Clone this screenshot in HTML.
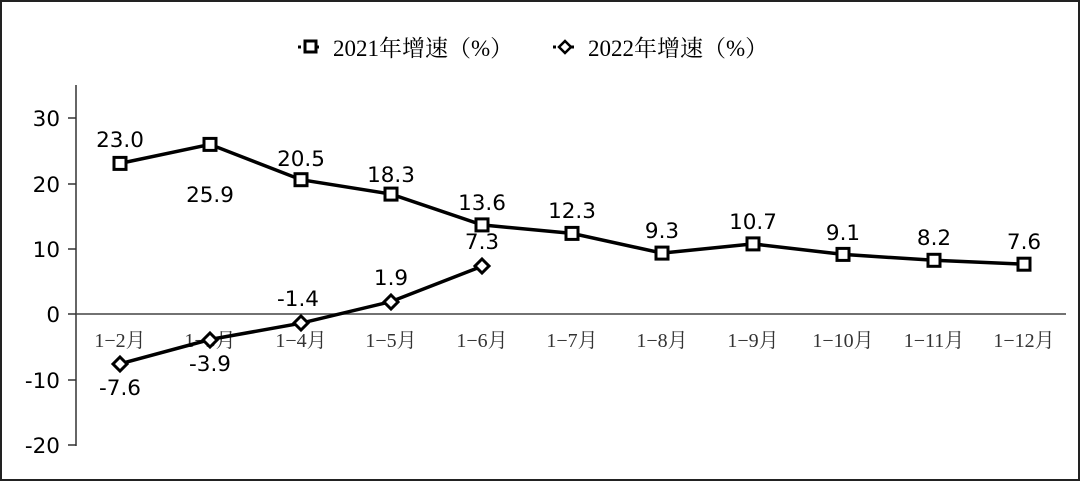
<!DOCTYPE html>
<html><head><meta charset="utf-8"><style>
html,body{margin:0;padding:0;background:#fff}
svg{display:block}
.n{font-family:"DejaVu Sans","Liberation Sans",sans-serif;font-size:21.5px;fill:#000}
.c{font-family:"Liberation Serif","Noto Serif CJK SC",serif;font-size:20px;fill:#333}
.l{font-family:"Liberation Serif","Noto Serif CJK SC",serif;font-size:23px;fill:#000}
</style></head><body>
<svg width="1080" height="481" viewBox="0 0 1080 481">
<rect x="1" y="1" width="1078" height="479" fill="#fff" stroke="#222" stroke-width="2"/>
<line x1="298" y1="47" x2="322" y2="47" stroke="#000" stroke-width="3" stroke-dasharray="3,3"/>
<rect x="305" y="41" width="11" height="11" fill="#fff" stroke="#000" stroke-width="3"/>
<text class="l" x="333" y="56">2021年增速（%）</text>
<line x1="553" y1="47" x2="577" y2="47" stroke="#000" stroke-width="3" stroke-dasharray="3,3"/>
<polygon points="565,41 571,47 565,53 559,47" fill="#fff" stroke="#000" stroke-width="2.5"/>
<text class="l" x="588" y="56">2022年增速（%）</text>
<line x1="76" y1="85" x2="76" y2="446" stroke="#333" stroke-width="1.5"/>
<line x1="76" y1="314" x2="1066" y2="314" stroke="#444" stroke-width="1.5"/>
<g stroke="#333" stroke-width="1.5">
<line x1="68" y1="118" x2="76" y2="118"/><line x1="68" y1="184" x2="76" y2="184"/>
<line x1="68" y1="249" x2="76" y2="249"/><line x1="68" y1="314" x2="76" y2="314"/>
<line x1="68" y1="380" x2="76" y2="380"/><line x1="68" y1="445" x2="76" y2="445"/>
</g>
<g class="n" text-anchor="end">
<text x="60" y="126">30</text><text x="60" y="192">20</text><text x="60" y="257">10</text>
<text x="60" y="322">0</text><text x="60" y="388">-10</text><text x="60" y="453">-20</text>
</g>
<g class="c" text-anchor="middle">
<text x="120" y="347">1−2月</text><text x="210" y="347">1−3月</text><text x="301" y="347">1−4月</text>
<text x="391" y="347">1−5月</text><text x="482" y="347">1−6月</text><text x="572" y="347">1−7月</text>
<text x="662" y="347">1−8月</text><text x="753" y="347">1−9月</text><text x="843" y="347">1−10月</text>
<text x="934" y="347">1−11月</text><text x="1024" y="347">1−12月</text>
</g>
<polyline fill="none" stroke="#000" stroke-width="3.5" points="120,163.4 210,144.4 301,179.7 391,194.1 482,224.9 572,233.4 662,253.1 753,243.9 843,254.4 934,260.3 1024,264.2"/>
<g fill="#fff" stroke="#000" stroke-width="3">
<rect x="114" y="157.4" width="12" height="12"/><rect x="204" y="138.4" width="12" height="12"/>
<rect x="295" y="173.7" width="12" height="12"/><rect x="385" y="188.1" width="12" height="12"/>
<rect x="476" y="218.9" width="12" height="12"/><rect x="566" y="227.4" width="12" height="12"/>
<rect x="656" y="247.1" width="12" height="12"/><rect x="747" y="237.9" width="12" height="12"/>
<rect x="837" y="248.4" width="12" height="12"/><rect x="928" y="254.3" width="12" height="12"/>
<rect x="1018" y="258.2" width="12" height="12"/>
</g>
<g class="n" text-anchor="middle">
<text x="120" y="147">23.0</text><text x="210" y="202">25.9</text><text x="301" y="166">20.5</text>
<text x="391" y="182">18.3</text><text x="482" y="210">13.6</text><text x="572" y="218">12.3</text>
<text x="662" y="238">9.3</text><text x="753" y="229">10.7</text><text x="843" y="240">9.1</text>
<text x="934" y="245">8.2</text><text x="1024" y="249">7.6</text>
</g>
<polyline fill="none" stroke="#000" stroke-width="3.5" points="120,363.8 210,339.5 301,323.2 391,301.6 482,266.2"/>
<g fill="#fff" stroke="#000" stroke-width="3">
<polygon points="120,357 127,364 120,371 113,364"/><polygon points="210,333 217,340 210,347 203,340"/>
<polygon points="301,316 308,323 301,330 294,323"/><polygon points="391,295 398,302 391,309 384,302"/>
<polygon points="482,259 489,266 482,273 475,266"/>
</g>
<g class="n" text-anchor="middle">
<text x="120" y="395">-7.6</text><text x="210" y="371">-3.9</text><text x="298" y="306">-1.4</text>
<text x="391" y="285">1.9</text><text x="482" y="249">7.3</text>
</g>
</svg>
</body></html>
